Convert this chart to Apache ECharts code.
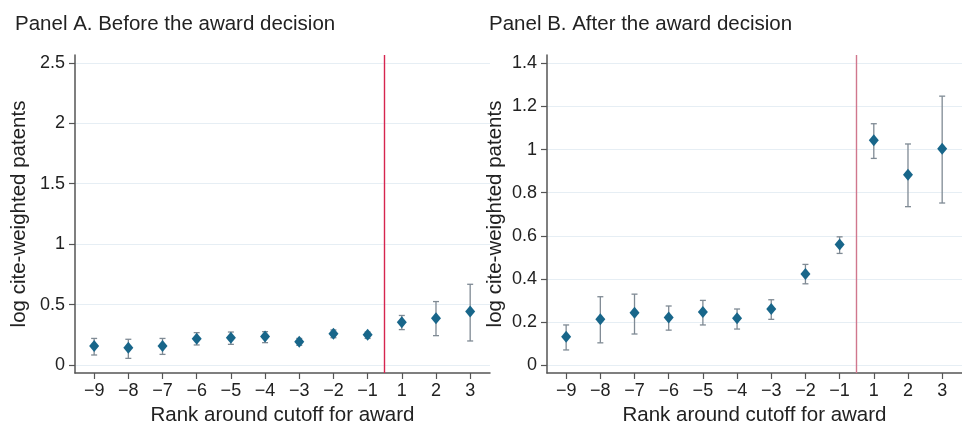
<!DOCTYPE html>
<html><head><meta charset="utf-8">
<script src="https://cdn.jsdelivr.net/npm/echarts@6/dist/echarts.min.js"></script>
<style>html,body{margin:0;padding:0;background:#fff}#c{width:962px;height:424px}</style>
</head><body><div id="c"></div>
<script>
const rankLabels = ['\u22129','\u22128','\u22127','\u22126','\u22125','\u22124','\u22123','\u22122','\u22121','1','2','3'];
const rankPos = [0,1,2,3,4,5,6,7,8,9,10,11];
const cutoffPos = 8.5;

const beforeEst = [0.157,0.143,0.157,0.218,0.226,0.235,0.193,0.259,0.251,0.354,0.387,0.442];
const beforeLo  = [0.083,0.055,0.088,0.166,0.171,0.185,0.163,0.226,0.220,0.293,0.243,0.199];
const beforeHi  = [0.220,0.213,0.220,0.268,0.273,0.276,0.220,0.290,0.273,0.410,0.525,0.668];

const afterEst = [0.131,0.212,0.243,0.221,0.246,0.217,0.260,0.422,0.560,1.043,0.883,1.004];
const afterLo  = [0.070,0.103,0.144,0.162,0.186,0.167,0.212,0.377,0.518,0.959,0.735,0.752];
const afterHi  = [0.186,0.317,0.329,0.274,0.300,0.260,0.303,0.467,0.595,1.120,1.026,1.248];

const beforeTicks = [0,0.5,1,1.5,2,2.5];
const afterTicks = [0,0.2,0.4,0.6,0.8,1,1.2,1.4];

const FONT = 'Liberation Sans, Arial, Helvetica, sans-serif';
const chart = echarts.init(document.getElementById('c'), null, {renderer:'canvas'});

function xAxisDef(idx){
  return {
    type:'value', gridIndex: idx, min:-0.56, max:11.58,
    name:'Rank around cutoff for award', nameLocation:'middle', nameGap:31,
    nameTextStyle:{fontFamily:FONT, fontSize:20.5, color:'#222'},
    axisLine:{show:true, onZero:false, lineStyle:{color:'#555', width:1.5}},
    axisTick:{show:true, length:6, lineStyle:{color:'#555', width:1.2}, customValues: rankPos},
    axisLabel:{fontFamily:FONT, fontSize:18, color:'#222', margin:9, customValues: rankPos,
      formatter: v => rankLabels[Math.round(v)]},
    splitLine:{show:false}
  };
}
function yAxisDef(idx, mn, mx, ticks, gap){
  return {
    type:'value', gridIndex: idx, min:mn, max:mx,
    name:'log cite-weighted patents', nameLocation:'middle', nameGap:gap,
    nameTextStyle:{fontFamily:FONT, fontSize:20.5, color:'#222'},
    axisLine:{show:true, onZero:false, lineStyle:{color:'#555', width:1.5}},
    axisTick:{show:true, length:6, lineStyle:{color:'#555', width:1.2}, customValues: ticks},
    axisLabel:{fontFamily:FONT, fontSize:18, color:'#222', margin:10, customValues: ticks,
      formatter: v => String(+v.toFixed(2))},
    splitLine:{show:true, lineStyle:{color:'#e6eef4', width:1.2}}
  };
}
function errBars(idx, lo, hi){
  return {
    type:'custom', xAxisIndex: idx, yAxisIndex: idx, z:2,
    data: rankPos.map((p,i)=>[p, lo[i], hi[i]]),
    renderItem:(params, api)=>{
      const x = api.value(0);
      const a = api.coord([x, api.value(1)]);
      const b = api.coord([x, api.value(2)]);
      const w = 3;
      const st = {stroke:'#7f8a94', lineWidth:1.3};
      return {type:'group', children:[
        {type:'line', shape:{x1:a[0], y1:a[1], x2:b[0], y2:b[1]}, style:st},
        {type:'line', shape:{x1:a[0]-w, y1:a[1], x2:a[0]+w, y2:a[1]}, style:st},
        {type:'line', shape:{x1:b[0]-w, y1:b[1], x2:b[0]+w, y2:b[1]}, style:st}
      ]};
    }
  };
}
function points(idx, est, lineColor){
  return {
    type:'scatter', xAxisIndex: idx, yAxisIndex: idx, z:3,
    data: rankPos.map((p,i)=>[p, est[i]]),
    symbol:'diamond', symbolSize:[10,12],
    itemStyle:{color:'#18668a', opacity:1},
    markLine:{silent:true, symbol:'none', label:{show:false},
      lineStyle:{color:lineColor, width:1.4, type:'solid'},
      data:[{xAxis: cutoffPos}]}
  };
}

chart.setOption({
  animation:false,
  title:[
    {text:'Panel A. Before the award decision', left:10, top:9, textStyle:{fontFamily:FONT, fontSize:20.5, fontWeight:'normal', color:'#222'}},
    {text:'Panel B. After the award decision', left:484, top:9, textStyle:{fontFamily:FONT, fontSize:20.5, fontWeight:'normal', color:'#222'}}
  ],
  grid:[
    {left:75, right:472, top:55, bottom:51, containLabel:false, outerBoundsMode:'none'},
    {left:547, right:0, top:55, bottom:51, containLabel:false, outerBoundsMode:'none'}
  ],
  xAxis:[xAxisDef(0), xAxisDef(1)],
  yAxis:[yAxisDef(0,-0.066,2.565,beforeTicks,45), yAxisDef(1,-0.037,1.439,afterTicks,41)],
  series:[
    errBars(0, beforeLo, beforeHi), points(0, beforeEst, '#d6254f'),
    errBars(1, afterLo, afterHi), points(1, afterEst, '#d0778d')
  ]
});
</script></body></html>
